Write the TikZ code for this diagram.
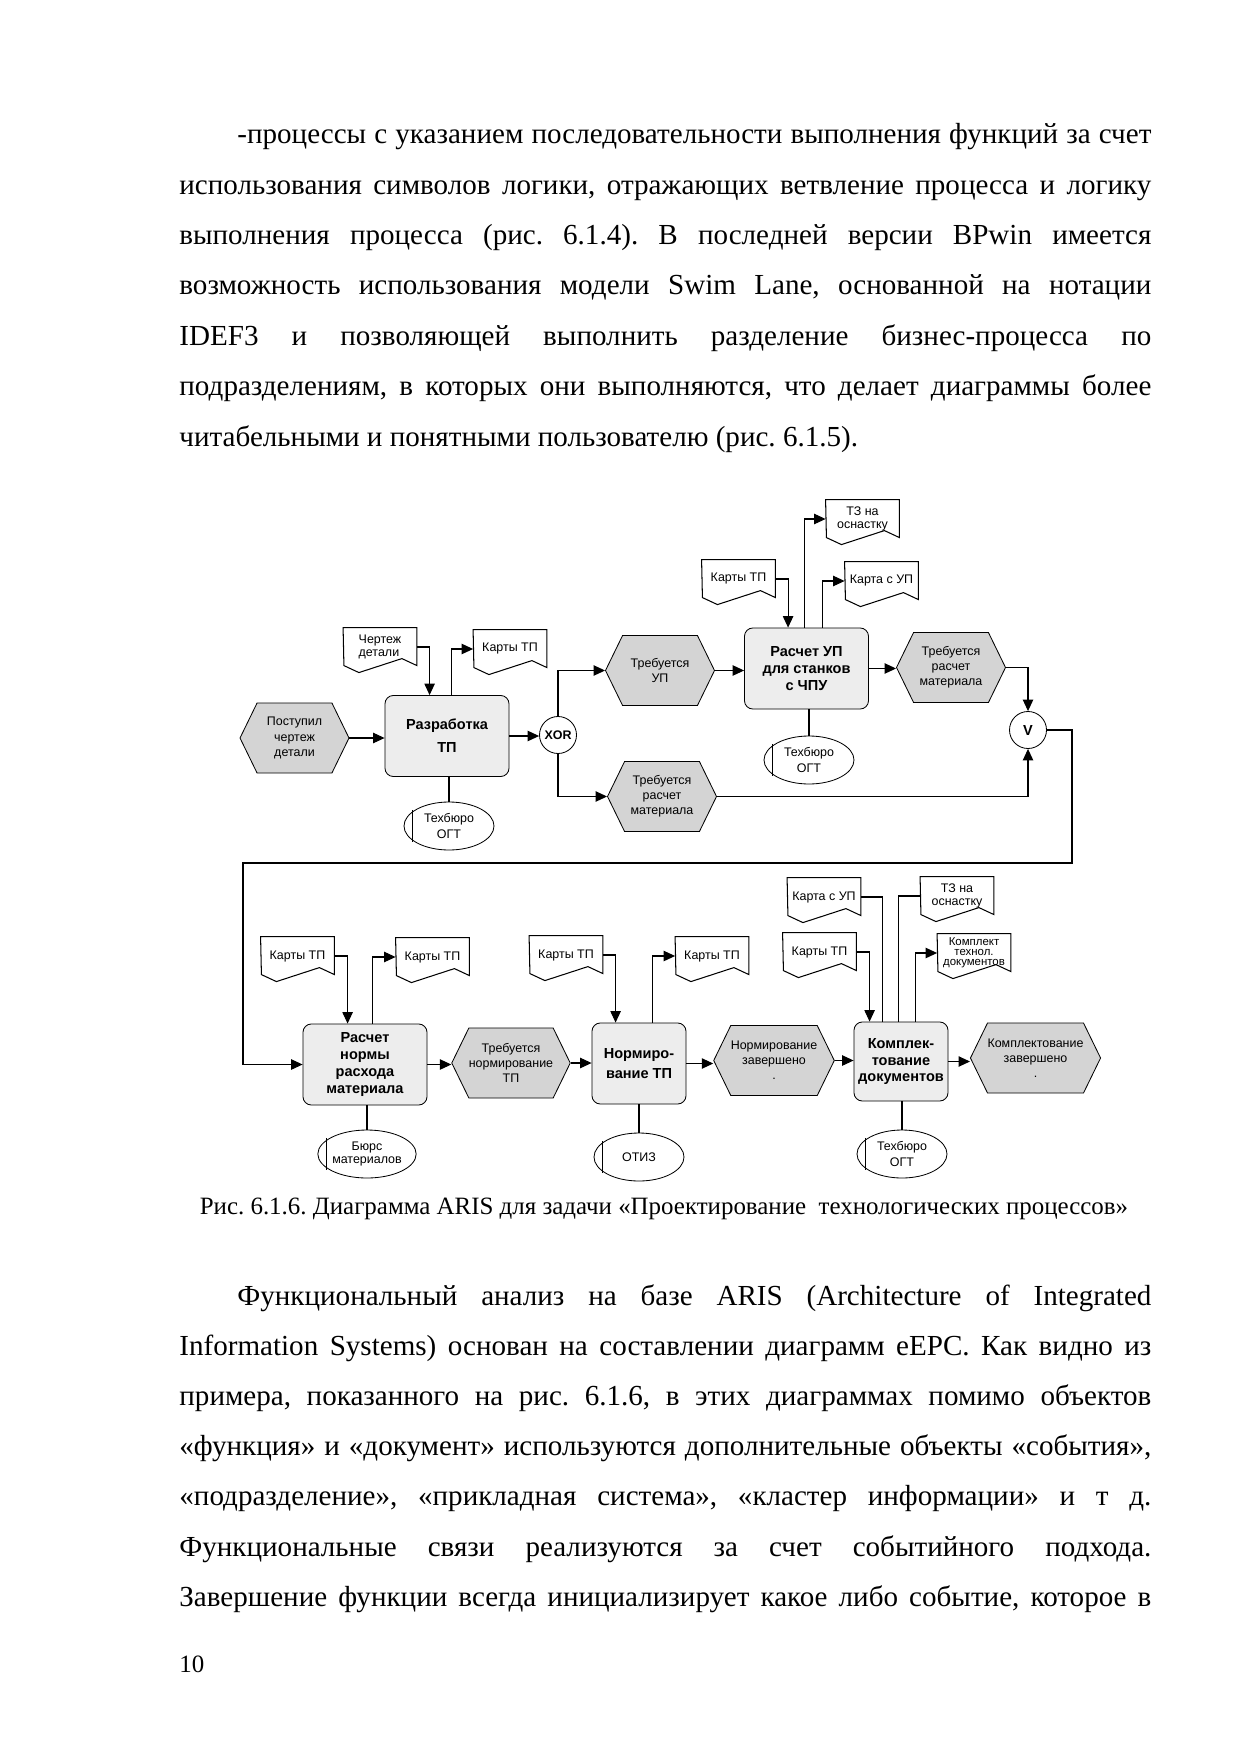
\documentclass[tikz,border=0pt]{standalone}
\usepackage{fontspec}
\setmainfont{Liberation Serif}
\setsansfont{Liberation Sans}
\usetikzlibrary{arrows.meta,shapes.symbols,shapes.geometric}
\definecolor{evgray}{HTML}{D4D4D4}
\definecolor{fngray}{HTML}{EDEDED}
\newcommand\pu{0.16922mm}
\newcommand\dfont[2]{\sffamily\fontsize{#1}{#2}\selectfont}
\frenchspacing
\tikzset{
  body/.style={anchor=base west, inner sep=0pt, font=\fontsize{14pt}{16pt}\selectfont\frenchspacing},
  event/.style={signal, signal to=east and west, signal pointer angle=128, draw, fill=evgray,
    minimum width=109*\pu, minimum height=70*\pu, inner sep=0pt, align=center, font=\dfont{6pt}{7.3pt}},
  func/.style={rectangle, rounded corners=1.4mm, draw, fill=fngray, minimum width=124*\pu,
    minimum height=81*\pu, inner sep=0pt, align=center, font=\sffamily\bfseries\fontsize{7pt}{8.1pt}\selectfont},
  doc/.style={rectangle, minimum width=73*\pu, minimum height=38*\pu, inner sep=0pt, align=center,
    font=\dfont{6pt}{6.3pt}},
  org/.style={ellipse, draw, fill=white, minimum width=90*\pu, minimum height=48*\pu, inner sep=0pt,
    align=center, font=\dfont{6pt}{8pt}},
  gate/.style={circle, draw, fill=white, minimum size=37*\pu, inner sep=0pt, font=\sffamily\bfseries\fontsize{6pt}{7pt}\selectfont},
  flow/.style={-{Triangle[length=5.5pt,width=5pt]}, line width=0.5pt},
  link/.style={line width=0.5pt},
  orgline/.style={line width=1.1pt},
}
\begin{document}
\begin{tikzpicture}[x=\pu, y=-\pu]
    \fill[white] (0,0) rectangle (1241,1755);
    \useasboundingbox (0,0) rectangle (1241,1755);
    % text above the figure
    \node[body] (pa1) at (237,144) {\makebox[154.67mm][s]{-процессы с указанием последовательности выполнения функций за счет}};
    \foreach \t [count=\i from 2] in {{использования символов логики, отражающих ветвление процесса и логику},
        {выполнения процесса (рис. 6.1.4). В последней версии BPwin имеется},
        {возможность использования модели Swim Lane, основанной на нотации},
        {IDEF3 и позволяющей выполнить разделение бизнес-процесса по},
        {подразделениям, в которых они выполняются, что делает диаграммы более}}
        \node[body] (pa\i) at (179,{144+50.3*(\i-1)}) {\makebox[164.48mm][s]{\t}};
    \node[body] (pa7) at (179,446) {читабельными и понятными пользователю (рис. 6.1.5).};
    % events
    \node[event] (e1) at (294.5,738) {Поступил\\чертеж\\детали};
    \node[event] (e2) at (660,670.5) {Требуется\\УП};
    \node[event] (e3) at (662,796.5) {Требуется\\расчет\\материала};
    \node[event] (e4) at (951,667.5) {Требуется\\расчет\\материала};
    \node[event] (e5) at (511,1063) {Требуется\\нормирование\\ТП};
    \node[event] (e6) at (774,1060.5) {Нормирование\\завершено\\.};
    \node[event] (e7) at (1035.5,1058) {Комплектование\\завершено\\.};
    % functions
    \node[func, font=\sffamily\bfseries\fontsize{7pt}{11pt}\selectfont] (f1) at (447,736) {Разработка\\ТП};
    \node[func] (f2) at (806.5,668.5) {Расчет УП\\для станков\\с ЧПУ};
    \node[func] (f3) at (365,1064.5) {Расчет\\нормы\\расхода\\материала};
    \node[func, minimum width=94*\pu, font=\sffamily\bfseries\fontsize{7pt}{10pt}\selectfont] (f4) at (639,1063.5) {Нормиро-\\вание ТП};
    \node[func, minimum width=94*\pu, minimum height=79*\pu] (f5) at (901,1061.5) {Комплек-\\тование\\документов};
    % logic
    \node[gate] (g1) at (558,735) {XOR};
    \node[gate, font=\sffamily\bfseries\fontsize{7pt}{8pt}\selectfont] (g2) at (1028,730) {V};
    % units
    \node[org] (o1) at (449,826) {Техбюро\\ОГТ};
    \node[org] (o2) at (809,760) {Техбюро\\ОГТ};
    \node[org, font=\dfont{6pt}{6.5pt}] (o3) at (367,1154) {Бюрс\\материалов};
    \node[org] (o4) at (639,1157) {ОТИЗ};
    \node[org] (o5) at (902,1154) {Техбюро\\ОГТ};
    \foreach \o in {o1,o2,o3,o4,o5}
        \draw[link] ([shift={(9,-16)}]\o.west) -- ([shift={(9,16)}]\o.west);
    % documents
    \node[doc, align=left] (d1) at (380,647) {Чертеж\\детали};
    \node[doc] (d2) at (510,649) {Карты ТП};
    \node[doc] (d3) at (738.5,579) {Карты ТП};
    \node[doc] (d4) at (862.5,519) {ТЗ на\\оснастку};
    \node[doc] (d5) at (881.5,581) {Карта с УП};
    \node[doc] (d6) at (297.5,956) {Карты ТП};
    \node[doc] (d7) at (432.5,957) {Карты ТП};
    \node[doc] (d8) at (566,955) {Карты ТП};
    \node[doc] (d9) at (712,956) {Карты ТП};
    \node[doc] (d10) at (824,897) {Карта с УП};
    \node[doc] (d11) at (819.5,952) {Карты ТП};
    \node[doc] (d12) at (957,896) {ТЗ на\\оснастку};
    \node[doc, font=\dfont{5.5pt}{4.9pt}] (d13) at (974,953) {Комплект\\технол.\\документов};
    \foreach \d in {d1,d2,d3,d4,d5,d6,d7,d8,d9,d10,d11,d12,d13}
        \draw[link] (\d.north west) -- (\d.north east) -- ++(0,38) -- ++(-15,-7) -- ++(-43,14) -- ++(-15,-7) -- cycle;
    % upper chain
    \draw[flow] (e1.east) -- (e1.east -| f1.west);
    \draw[flow] (d1.east) -| ([shift={(45,0)}]f1.north west);
    \draw[flow] ([shift={(67,0)}]f1.north west) |- (d2.west);
    \draw[orgline] (f1.south -| o1.north) -- (o1.north);
    \draw[flow] (f1.east) -- (f1.east -| g1.west);
    \draw[flow] (g1.north) |- (e2.west);
    \draw[flow] (g1.south) |- (e3.west);
    \draw[flow] (e2.east) -- (e2.east -| f2.west);
    \draw[flow] (d3.east) -| ([shift={(44,0)}]f2.north west);
    \draw[flow] ([shift={(60,0)}]f2.north west) |- (d4.west);
    \draw[flow] ([shift={(78,0)}]f2.north west) |- (d5.west);
    \draw[orgline] (f2.south -| o2.north) -- (o2.north);
    \draw[flow] (f2.east) -- (f2.east -| e4.west);
    \draw[flow] (e4.east) -| (g2.north);
    \draw[flow] (e3.east) -| (g2.south);
    % back to the lower chain
    \coordinate (c1) at (1072,863);
    \coordinate (c2) at (243,863);
    \draw[flow] (g2.east) -| (c1) -- (c2) |- (f3.west);
    % lower chain
    \draw[flow] (d6.east) -| ([shift={(45,0)}]f3.north west);
    \draw[flow] ([shift={(70,0)}]f3.north west) |- (d7.west);
    \draw[orgline] (f3.south -| o3.north) -- (o3.north);
    \draw[flow] (f3.east) -- (f3.east -| e5.west);
    \draw[flow] (e5.east) -- (e5.east -| f4.west);
    \draw[flow] (d8.east) -| ([shift={(24,0)}]f4.north west);
    \draw[flow] ([shift={(61,0)}]f4.north west) |- (d9.west);
    \draw[orgline] (f4.south) -- (o4.north);
    \draw[flow] (f4.east) -- (f4.east -| e6.west);
    \draw[flow] (e6.east) -- (e6.east -| f5.west);
    \draw[link] (d10.east) -| ([shift={(29,0)}]f5.north west);
    \draw[flow] (d11.east) -| ([shift={(16,0)}]f5.north west);
    \draw[link] (d12.west) -| ([shift={(45,0)}]f5.north west);
    \draw[flow] ([shift={(62,0)}]f5.north west) |- (d13.west);
    \draw[orgline] (f5.south -| o5.north) -- (o5.north);
    \draw[flow] (f5.east) -- (f5.east -| e7.west);
    % caption
    \node[anchor=base, inner sep=0pt, font=\fontsize{12pt}{14pt}\selectfont] (cap) at (664,1214)
        {Рис. 6.1.6. Диаграмма ARIS для задачи «Проектирование\ \ технологических процессов»};
    % text below the figure
    \node[body] (pb1) at (237,1305) {\makebox[154.67mm][s]{Функциональный анализ на базе ARIS (Architecture of Integrated}};
    \foreach \t [count=\i from 2] in {{Information Systems) основан на составлении диаграмм eEPC. Как видно из},
        {примера, показанного на рис. 6.1.6, в этих диаграммах помимо объектов},
        {«функция» и «документ» используются дополнительные объекты «события»,},
        {«подразделение», «прикладная система», «кластер информации» и т д.},
        {Функциональные связи реализуются за счет событийного подхода.},
        {Завершение функции всегда инициализирует какое либо событие, которое в}}
        \node[body] (pb\i) at (179,{1305+50.2*(\i-1)}) {\makebox[164.48mm][s]{\t}};
    \node[body, font=\fontsize{12pt}{14pt}\selectfont] (pg) at (179,1672) {10};
\end{tikzpicture}
\end{document}
